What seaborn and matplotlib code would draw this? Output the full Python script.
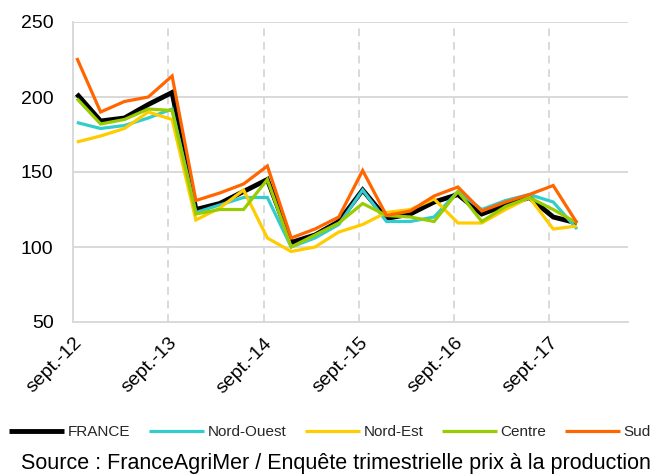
import numpy as np
import pandas as pd
import matplotlib
matplotlib.use("Agg")
import matplotlib.pyplot as plt
import seaborn as sns

# ---- data ----
tick_labels = ["sept.-12", "sept.-13", "sept.-14", "sept.-15", "sept.-16", "sept.-17"]
quarters = list(range(22))  # quarterly observations from sept. 2012
series_names = ["FRANCE", "Nord-Ouest", "Nord-Est", "Centre", "Sud"]
france = [202, 184, 186, 195, 203, 125, 129, 137, 145, 103, 108, 117, 138, 119, 122, 130, 135, 122, 128, 133, 120, 116]
nord_ouest = [183, 179, 181, 186, 192, 123, 128, 133, 133, 100, 106, 115, 138, 117, 117, 120, 137, 125, 131, 135, 130, 112]
nord_est = [170, 174, 179, 190, 185, 118, 126, 138, 106, 97, 100, 110, 115, 123, 125, 132, 116, 116, 125, 133, 112, 114]
centre = [199, 182, 185, 192, 191, 122, 125, 125, 145, 100, 108, 116, 129, 121, 120, 117, 137, 117, 127, 133, 125, 116]
sud = [226, 190, 197, 200, 214, 131, 136, 142, 154, 106, 112, 120, 151, 121, 124, 134, 140, 124, 130, 135, 141, 116]
source_text = "Source : FranceAgriMer / Enquête trimestrielle prix à la production"

colors = ["#000000", "#33CCCC", "#FFCC00", "#99CC00", "#FF6600"]
widths = [3.5, 2.3, 2.3, 2.3, 2.3]

values = [france, nord_ouest, nord_est, centre, sud]
frames = []
for name, vals in zip(series_names, values):
    frames.append(pd.DataFrame({"x": np.array(quarters) + 0.16, "value": vals, "serie": name}))
df = pd.concat(frames, ignore_index=True)

sns.set_theme(style="white")
plt.rcParams["font.family"] = ["Liberation Sans", "DejaVu Sans"]

fig = plt.figure(figsize=(6.53, 4.74), dpi=100)
ax = fig.add_axes([73 / 653, 1 - 322 / 474, (628 - 73) / 653, 300 / 474])

for name, col, lw in zip(series_names, colors, widths):
    sub = df[df["serie"] == name]
    sns.lineplot(data=sub, x="x", y="value", color=col, linewidth=lw, ax=ax,
                 label=name, solid_joinstyle="miter", solid_capstyle="butt")

ax.set_xlim(0, 23.3)
ax.set_ylim(50, 250)
ax.set_yticks([50, 100, 150, 200, 250])
ax.set_xticks([0, 4, 8, 12, 16, 20])
ax.set_xticklabels(tick_labels, rotation=45, ha="right", rotation_mode="anchor")
ax.set_xlabel("")
ax.set_ylabel("")

grid_col = "#D9D9D9"
ax.grid(False)
for yv in [100, 150, 200, 250]:
    ax.axhline(yv, color=grid_col, linewidth=1.4, zorder=0)
for xv in [4, 8, 12, 16, 20]:
    ax.axvline(xv, color=grid_col, linewidth=1.4, linestyle=(0, (4, 3)), zorder=0)

for s in ["top", "right"]:
    ax.spines[s].set_visible(False)
ax.spines["left"].set_color(grid_col)
ax.spines["left"].set_linewidth(1.4)
ax.spines["bottom"].set_color(grid_col)
ax.spines["bottom"].set_linewidth(1.4)

ax.tick_params(axis="y", length=0, pad=14, labelsize=14, colors="black")
ax.tick_params(axis="x", length=4, width=1.4, color=grid_col, pad=5, labelsize=14, labelcolor="black")

handles, labels = ax.get_legend_handles_labels()
leg = fig.legend(handles, labels, loc="center", bbox_to_anchor=(330 / 653, 1 - 432 / 474),
                 ncol=5, frameon=False, fontsize=11, handlelength=3.6, handletextpad=0.25,
                 columnspacing=1.2, borderaxespad=0, borderpad=0)
ax.get_legend().remove()

fig.text(336 / 653, 1 - 463 / 474, source_text, ha="center", va="center", fontsize=15.5, color="black")

fig.savefig("out.png", dpi=100)
